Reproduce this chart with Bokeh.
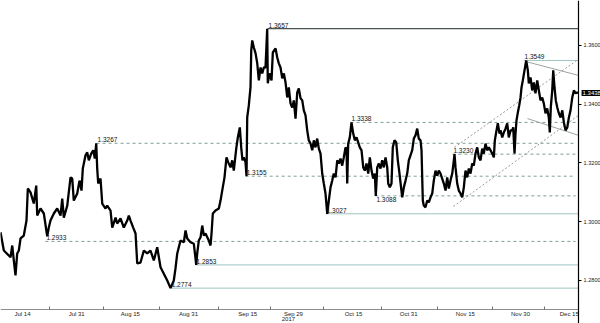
from bokeh.plotting import figure
from bokeh.models import Range1d, LinearAxis, FixedTicker, Label
from bokeh.core.properties import value
from bokeh.embed import file_html
from bokeh.resources import INLINE

# GBP/USD, trading-day index (0 = Jul 14, 2017) and price
day = [-4.43, -3.76, -2.41, -2.07, -1.75, -1.41, -1.07, -0.74, -0.40, 0.26, 0.80, 1.07, 1.61, 2.27, 2.76, 2.96,
       3.62, 4.29, 4.97, 5.29, 5.63, 6.30, 6.98, 7.65, 7.99, 8.31, 9.00, 9.66, 10.00, 10.32, 11.01, 11.47,
       11.87, 12.13, 12.68, 13.02, 13.34, 13.82, 14.23, 14.55, 14.83, 15.03, 15.23, 15.69, 16.04, 16.70,
       17.04, 17.71, 18.05, 18.72, 19.05, 19.72, 20.38, 21.07, 21.39, 21.73, 22.27, 22.74, 23.08, 23.74,
       24.41, 25.09, 25.75, 26.42, 27.10, 27.77, 28.43, 29.12, 29.78, 30.44, 30.78, 31.13, 31.79, 32.45,
       32.80, 33.14, 33.80, 34.47, 34.95, 35.15, 35.47, 35.82, 36.16, 36.48, 36.82, 37.48, 37.83, 38.03,
       38.29, 38.83, 39.50, 39.84, 40.18, 40.64, 41.04, 41.39, 41.85, 42.19, 42.51, 43.00, 43.32, 43.72,
       44.00, 44.26, 44.53, 44.87, 45.07, 45.21, 45.53, 45.87, 46.02, 46.22, 46.54, 46.89, 47.23, 47.55,
       47.89, 48.23, 48.55, 48.89, 49.23, 49.35, 49.69, 50.10, 50.36, 50.91, 51.25, 51.57, 51.91, 52.26,
       52.58, 52.92, 53.26, 53.58, 53.92, 54.26, 54.59, 54.93, 55.27, 55.59, 55.94, 56.28, 56.60, 56.94,
       57.28, 57.60, 57.95, 58.29, 58.61, 58.95, 59.29, 59.62, 59.96, 60.30, 60.62, 60.96, 61.31, 61.63,
       61.97, 62.31, 62.63, 62.98, 63.32, 63.64, 63.98, 64.32, 64.64, 64.99, 65.19, 65.33, 65.53, 65.85,
       66.19, 66.54, 66.86, 67.20, 67.54, 67.86, 68.21, 68.55, 68.87, 69.21, 69.56, 69.88, 70.22, 70.56,
       70.88, 71.08, 71.37, 71.69, 72.03, 72.37, 72.69, 73.04, 73.38, 73.58, 73.90, 74.24, 74.50, 74.85,
       75.19, 75.51, 75.85, 76.19, 76.40, 76.72, 77.06, 77.40, 77.72, 78.06, 78.40, 78.73, 79.07, 79.41,
       79.73, 80.08, 80.28, 80.54, 80.74, 81.08, 81.43, 81.75, 82.09, 82.43, 82.75, 83.10, 83.44, 83.76,
       84.10, 84.77, 85.11, 85.45, 85.77, 86.11, 86.46, 86.78, 86.92, 87.12, 87.46, 87.78, 88.13, 88.47,
       88.79, 89.13, 89.47, 89.80, 90.14, 90.48, 90.80, 91.14, 91.49, 91.81, 92.15, 92.49, 92.81, 93.16,
       93.50, 93.82, 94.16, 94.50, 94.83, 95.03, 95.37, 95.63, 95.97, 96.17, 96.52, 96.84, 97.18, 97.52,
       97.84, 98.19, 98.53, 98.73, 98.99, 99.19, 99.39, 99.66, 99.94, 100.20, 100.40, 100.66, 101.00,
       101.34, 101.67, 101.87, 102.21, 102.55, 102.87, 103.21, 103.56, 103.88, 104.22, 104.56, 104.88,
       105.23, 105.57, 105.89, 106.09, 106.29, 106.58, 106.78, 107.04, 107.30, 107.59, 107.91, 108.26,
       108.60, 108.92, 109.26, 109.61, 109.93, 110.26, 110.61, 110.93, 111.27, 111.61, 111.88]
price = [1.2964, 1.2902, 1.2879, 1.2919, 1.2868, 1.2817, 1.2892, 1.2902, 1.2943, 1.2953, 1.3004, 1.3113,
         1.3100, 1.3062, 1.3123, 1.3021, 1.3045, 1.3028, 1.2950, 1.2980, 1.3004, 1.3028, 1.3045, 1.3021,
         1.3079, 1.3014, 1.3055, 1.3151, 1.3147, 1.3072, 1.3096, 1.3140, 1.3106, 1.3181, 1.3226, 1.3236,
         1.3209, 1.3232, 1.3243, 1.3215, 1.3267, 1.3181, 1.3130, 1.3147, 1.3062, 1.3045, 1.3055, 1.3038,
         1.2980, 1.3014, 1.2994, 1.3011, 1.2980, 1.3004, 1.3021, 1.3004, 1.2980, 1.2960, 1.2858, 1.2861,
         1.2902, 1.2892, 1.2902, 1.2868, 1.2913, 1.2845, 1.2823, 1.2800, 1.2774, 1.2800, 1.2841, 1.2892,
         1.2936, 1.2930, 1.2970, 1.2943, 1.2930, 1.2925, 1.2853, 1.2892, 1.2936, 1.2947, 1.2987, 1.2953,
         1.2960, 1.2936, 1.2919, 1.2960, 1.3028, 1.3038, 1.3045, 1.3072, 1.3106, 1.3151, 1.3219, 1.3202,
         1.3185, 1.3209, 1.3174, 1.3249, 1.3287, 1.3321, 1.3253, 1.3209, 1.3219, 1.3202, 1.3155, 1.3355,
         1.3396, 1.3457, 1.3583, 1.3617, 1.3593, 1.3573, 1.3539, 1.3481, 1.3525, 1.3505, 1.3525, 1.3525,
         1.3657, 1.3471, 1.3505, 1.3481, 1.3576, 1.3590, 1.3559, 1.3539, 1.3525, 1.3488, 1.3505, 1.3474,
         1.3423, 1.3457, 1.3403, 1.3389, 1.3413, 1.3351, 1.3440, 1.3454, 1.3420, 1.3413, 1.3379, 1.3362,
         1.3311, 1.3277, 1.3266, 1.3243, 1.3277, 1.3253, 1.3283, 1.3249, 1.3232, 1.3164, 1.3130, 1.3096,
         1.3027, 1.3072, 1.3117, 1.3140, 1.3164, 1.3151, 1.3209, 1.3198, 1.3215, 1.3191, 1.3219, 1.3253,
         1.3249, 1.3130, 1.3266, 1.3287, 1.3338, 1.3300, 1.3277, 1.3287, 1.3270, 1.3253, 1.3243, 1.3185,
         1.3174, 1.3198, 1.3164, 1.3219, 1.3174, 1.3147, 1.3164, 1.3088, 1.3185, 1.3198, 1.3181, 1.3209,
         1.3185, 1.3219, 1.3185, 1.3130, 1.3117, 1.3130, 1.3253, 1.3277, 1.3270, 1.3209, 1.3164, 1.3113,
         1.3083, 1.3117, 1.3140, 1.3164, 1.3209, 1.3226, 1.3243, 1.3283, 1.3294, 1.3317, 1.3283, 1.3277,
         1.3243, 1.3072, 1.3055, 1.3049, 1.3072, 1.3066, 1.3083, 1.3096, 1.3140, 1.3174, 1.3157, 1.3174,
         1.3164, 1.3130, 1.3106, 1.3151, 1.3113, 1.3140, 1.3164, 1.3209, 1.3230, 1.3185, 1.3130, 1.3106,
         1.3096, 1.3083, 1.3117, 1.3174, 1.3151, 1.3181, 1.3164, 1.3198, 1.3191, 1.3232, 1.3253, 1.3219,
         1.3209, 1.3249, 1.3232, 1.3266, 1.3243, 1.3253, 1.3243, 1.3232, 1.3219, 1.3277, 1.3311, 1.3335,
         1.3300, 1.3311, 1.3287, 1.3304, 1.3317, 1.3335, 1.3287, 1.3311, 1.3311, 1.3321, 1.3232, 1.3300,
         1.3345, 1.3372, 1.3396, 1.3423, 1.3457, 1.3481, 1.3515, 1.3549, 1.3515, 1.3471, 1.3491, 1.3447,
         1.3474, 1.3437, 1.3481, 1.3447, 1.3413, 1.3423, 1.3403, 1.3369, 1.3386, 1.3355, 1.3304, 1.3389,
         1.3447, 1.3515, 1.3457, 1.3413, 1.3389, 1.3369, 1.3355, 1.3379, 1.3338, 1.3311, 1.3321, 1.3355,
         1.3379, 1.3423, 1.3447, 1.3437, 1.3440, 1.3438]

# x-axis ticks (trading-day index) and labels
tick_days = [0, 10.9, 21.7, 33.4, 45.3, 54.5, 66.6, 77.7, 89.1, 100.2, 110.0]
tick_labels = ["Jul 14", "Jul 31", "Aug 15", "Aug 31", "Sep 15", "Sep 29", "Oct 15", "Oct 31",
               "Nov 15", "Nov 30", "Dec 15"]
year_label = "2017"
price_ticks = [1.28, 1.30, 1.32, 1.34, 1.36]
last_price = 1.3438

# support / resistance levels
solid_levels = [1.3549, 1.3027, 1.2853, 1.2774]
solid_start = [100.8, 61.0, 34.8, 29.8]
top_level = 1.3657
top_start = 49.3
dashed_levels = [1.3338, 1.3267, 1.3230, 1.3155, 1.3088, 1.2933]
dashed_start = [66.0, 14.9, 86.5, 44.9, 71.0, 4.6]

# channels: (start day, start price, end day, end price)
desc_upper = (101.1, 1.3546, 111.88, 1.3498)
desc_lower = (101.6, 1.3351, 111.88, 1.3294)
asc_upper = (86.9, 1.3253, 111.5, 1.3549)
asc_lower = (86.7, 1.3052, 111.88, 1.3362)

# view window (days, price); axes sit at the last session and at the bottom of the price scale
X0, X1 = -4.43, 116.29
Y0, Y1 = 1.26536, 1.3753
X_AXIS = 111.88
Y_AXIS = 1.27013
FONT = "Liberation Sans"

p = figure(width=600, height=323, output_backend="svg", toolbar_location=None,
           x_range=Range1d(X0, X1), y_range=Range1d(Y0, Y1),
           x_axis_location=None, y_axis_location=None,
           min_border_left=0, min_border_top=0, min_border_right=0, min_border_bottom=0)
p.outline_line_color = None
p.xgrid.visible = False
p.ygrid.visible = False
p.background_fill_color = "white"
p.border_fill_color = "white"

# axes (pinned inside the frame)
xa = LinearAxis(ticker=FixedTicker(ticks=tick_days,
                                   minor_ticks=[(a + b) / 2 for a, b in zip(tick_days[:-1], tick_days[1:])]),
                fixed_location=Y_AXIS, bounds=(X0, X_AXIS))
xa.major_label_overrides = {t: l for t, l in zip(tick_days, tick_labels)}
xa.axis_line_color = "#8c8c8c"
xa.axis_line_width = 1
xa.major_tick_in = 0
xa.major_tick_out = 0
xa.minor_tick_in = 3
xa.minor_tick_out = 0
xa.minor_tick_line_color = "#707070"
xa.major_label_standoff = 2
xa.major_label_text_font = FONT
xa.major_label_text_font_size = "6px"
xa.major_label_text_color = "#222222"
p.add_layout(xa, "below")

ya = LinearAxis(ticker=FixedTicker(ticks=price_ticks), fixed_location=X_AXIS)
ya.major_label_overrides = {t: f"{t:.4f}" for t in price_ticks}
ya.axis_line_color = "black"
ya.axis_line_width = 1.2
ya.major_tick_in = 0
ya.major_tick_out = 3
ya.minor_tick_in = 0
ya.minor_tick_out = 0
ya.major_tick_line_color = "black"
ya.major_tick_line_width = 1
ya.major_label_standoff = 2
ya.major_label_text_font = FONT
ya.major_label_text_font_size = "5.6px"
ya.major_label_text_color = "#222222"
p.add_layout(ya, "right")

# level lines
p.segment(x0=solid_start, y0=solid_levels, x1=[X_AXIS] * len(solid_levels), y1=solid_levels,
          line_color="#9fc4c0", line_width=1)
p.segment(x0=[top_start], y0=[top_level], x1=[X_AXIS], y1=[top_level], line_color="#4a5550", line_width=1.2)
p.segment(x0=dashed_start, y0=dashed_levels, x1=[X_AXIS - 0.6] * len(dashed_levels), y1=dashed_levels,
          line_color="#7d9e9a", line_width=1, line_dash="3 3")

# channels
for seg, col, dash in [(desc_upper, "#9aa5a3", "solid"), (desc_lower, "#9aa5a3", "solid"),
                       (asc_upper, "#9a9a9a", "2 2"), (asc_lower, "#9a9a9a", "2 2")]:
    p.segment(x0=[seg[0]], y0=[seg[1]], x1=[seg[2]], y1=[seg[3]], line_color=col, line_width=1,
              line_dash=dash)

# price
p.line(day, price, line_color="black", line_width=2.3)

# level labels
above_levels = [top_level] + solid_levels + [l for l in dashed_levels if l != 1.3088]
above_start = [top_start] + solid_start + [s for l, s in zip(dashed_levels, dashed_start) if l != 1.3088]
p.text(x=above_start, y=above_levels, text=[f"{l:.4f}" for l in above_levels],
       text_font=value(FONT), text_font_size="6.5px", text_color="#111111",
       text_baseline="bottom", text_align="left", x_offset=1, y_offset=-1)
p.text(x=[71.0], y=[1.3088], text=["1.3088"],
       text_font=value(FONT), text_font_size="6.5px", text_color="#111111",
       text_baseline="top", text_align="left", x_offset=1, y_offset=1)

# year label under Sep 29
p.add_layout(Label(x=tick_days[5], y=Y_AXIS, text=year_label, text_font=FONT, text_font_size="6px",
                   text_color="#222222", text_align="center", text_baseline="top",
                   x_offset=-5, y_offset=-8))

# last price tag
p.add_layout(Label(x=X_AXIS, y=last_price, text=f"{last_price:.4f}", text_font=FONT, text_font_size="6px",
                   text_color="white", background_fill_color="black", text_align="left",
                   text_baseline="middle", x_offset=3, padding=1))

open("out.html", "w").write(file_html(p, INLINE))
